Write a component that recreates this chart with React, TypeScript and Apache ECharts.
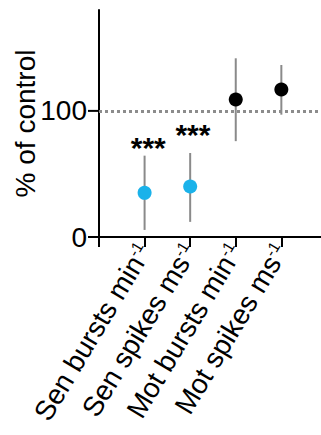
import React, { useEffect, useRef } from "react";
import * as echarts from "echarts";

const categories = ["Sen bursts min", "Sen spikes ms", "Mot bursts min", "Mot spikes ms"];
const superscripts = ["-1", "-1", "-1", "-1"];
const positions = [1, 2, 3, 4];
const means = [35, 40, 109, 117];
const lows = [5.6, 12, 76, 97];
const highs = [64.5, 66.6, 141.7, 136.4];
const pointColors = ["#1ab2ea", "#1ab2ea", "#000000", "#000000"];
const starTexts = ["***", "***"];
const starPositions = [1.08, 2.06];
const starValues = [71, 81];
const yTicks = [0, 100];
const referenceValue = 100;

const FONT = "Liberation Sans, Arial, sans-serif";

export default function App() {
  const ref = useRef<HTMLDivElement>(null);
  useEffect(() => {
    if (!ref.current) return;
    const chart = echarts.init(ref.current, undefined, { renderer: "svg" });
    chart.setOption({
      animation: false,
      grid: { left: 99, top: 10, right: 0, bottom: 198, containLabel: false, outerBoundsMode: "none" },
      xAxis: {
        type: "value",
        min: 0,
        max: 4.87,
        interval: 1,
        splitLine: { show: false },
        axisLine: { show: true, lineStyle: { color: "#000", width: 2 } },
        axisTick: { show: true, length: 10, lineStyle: { color: "#000", width: 2 }, customValues: [0, 1, 2, 3, 4] },
        axisLabel: {
          customValues: positions,
          rotate: 59,
          margin: 9,
          color: "#000",
          fontFamily: FONT,
          formatter: (v: number) => {
            const i = Math.round(v) - 1;
            if (i < 0 || i >= categories.length) return "";
            return `{t|${categories[i]}}{s|${superscripts[i]}}`;
          },
          rich: {
            t: { fontSize: 28, fontFamily: FONT, color: "#000" },
            s: { fontSize: 16, fontFamily: FONT, color: "#000", verticalAlign: "top", padding: [0, 0, 12, 0] },
          },
        },
      },
      yAxis: {
        type: "value",
        min: 0,
        max: 180,
        interval: 100,
        splitLine: { show: false },
        axisLine: { show: true, lineStyle: { color: "#000", width: 2 } },
        axisTick: { show: false },
        axisLabel: {
          showMaxLabel: false,
          fontSize: 28,
          color: "#000",
          fontFamily: FONT,
          margin: 12,
          formatter: (v: number) => (yTicks.includes(v) ? String(v) : ""),
        },
        name: "% of control",
        nameLocation: "middle",
        nameGap: 60,
        nameMoveOverlap: false,
        nameTextStyle: { fontSize: 28, color: "#000", fontFamily: FONT },
      },
      series: [
        {
          type: "custom",
          clip: false,
          data: yTicks.map((v) => [0, v]),
          renderItem: (params: any, api: any) => {
            const p = api.coord([api.value(0), api.value(1)]);
            return {
              type: "line",
              shape: { x1: p[0] - 11, y1: p[1], x2: p[0], y2: p[1] },
              style: { stroke: "#000", lineWidth: 2 },
            };
          },
          z: 5,
        },
        {
          type: "custom",
          data: positions.map((p, i) => [p, lows[i], highs[i]]),
          renderItem: (params: any, api: any) => {
            const a = api.coord([api.value(0), api.value(1)]);
            const b = api.coord([api.value(0), api.value(2)]);
            return {
              type: "line",
              shape: { x1: a[0], y1: a[1], x2: b[0], y2: b[1] },
              style: { stroke: "#8a8a8a", lineWidth: 2 },
            };
          },
          markLine: {
            silent: true,
            symbol: "none",
            label: { show: false },
            lineStyle: { color: "#8c8c8c", type: [3, 3], width: 3, opacity: 1 },
            data: [{ yAxis: referenceValue }],
          },
          z: 1,
        },
        {
          type: "scatter",
          symbolSize: 14,
          itemStyle: { opacity: 1 },
          data: positions.map((p, i) => ({ value: [p, means[i]], itemStyle: { color: pointColors[i], opacity: 1 } })),
          z: 3,
        },
        {
          type: "scatter",
          symbolSize: 1,
          itemStyle: { opacity: 0 },
          data: starPositions.map((p, i) => ({ value: [p, starValues[i]], label: { formatter: starTexts[i] } })),
          label: {
            show: true,
            position: "inside",
            fontSize: 30,
            fontWeight: "bold",
            color: "#000",
            opacity: 1,
            fontFamily: FONT,
          },
          z: 4,
        },
      ],
    });
    return () => chart.dispose();
  }, []);
  return <div ref={ref} style={{ width: 321, height: 435, position: "absolute", left: 0, top: 0 }} />;
}
